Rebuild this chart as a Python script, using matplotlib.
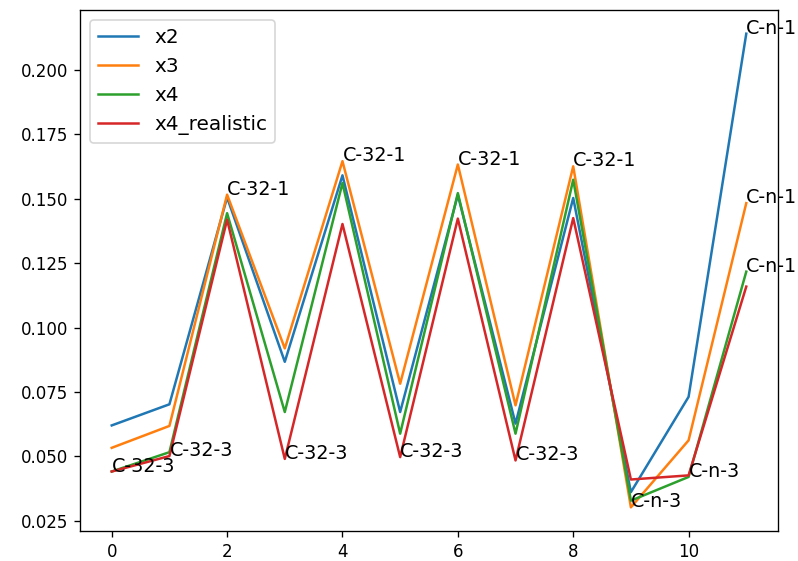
import matplotlib
matplotlib.use("Agg")
import matplotlib.pyplot as plt
import numpy as np


x = np.arange(12)

x2 = [0.0620, 0.0702, 0.1505, 0.0867, 0.1591, 0.0672, 0.1515, 0.0627, 0.1503, 0.0361, 0.0731, 0.2141]
x3 = [0.0533, 0.0618, 0.1516, 0.0919, 0.1646, 0.0782, 0.1633, 0.0698, 0.1626, 0.0302, 0.0562, 0.1483]
x4 = [0.0441, 0.0516, 0.1444, 0.0672, 0.1561, 0.0588, 0.1522, 0.0588, 0.1574, 0.0328, 0.0420, 0.1217]
x4_realistic = [0.0441, 0.0501, 0.1419, 0.0490, 0.1402, 0.0497, 0.1423, 0.0484, 0.1425, 0.0410, 0.0426, 0.1159]

series = {"x2": x2, "x3": x3, "x4": x4, "x4_realistic": x4_realistic}

# (index, series the label sits on, text)
labels = [
    (0, "x4_realistic", "C-32-3"),
    (1, "x4_realistic", "C-32-3"),
    (2, "x3", "C-32-1"),
    (3, "x4_realistic", "C-32-3"),
    (4, "x3", "C-32-1"),
    (5, "x4_realistic", "C-32-3"),
    (6, "x3", "C-32-1"),
    (7, "x4_realistic", "C-32-3"),
    (8, "x3", "C-32-1"),
    (9, "x3", "C-n-3"),
    (10, "x4", "C-n-3"),
    (11, "x2", "C-n-1"),
    (11, "x3", "C-n-1"),
    (11, "x4", "C-n-1"),
]

fig = plt.figure(figsize=(798 / 120, 561 / 120), dpi=120)
ax = fig.add_axes([80 / 798, 30 / 561, 698 / 798, 521 / 561])

for name, vals in series.items():
    ax.plot(x, vals, label=name)

for i, key, txt in labels:
    ax.annotate(txt, (x[i], series[key][i]), fontsize=11.5)

ax.legend(loc="upper left", fontsize=12)
fig.savefig("out.png", dpi=120)
